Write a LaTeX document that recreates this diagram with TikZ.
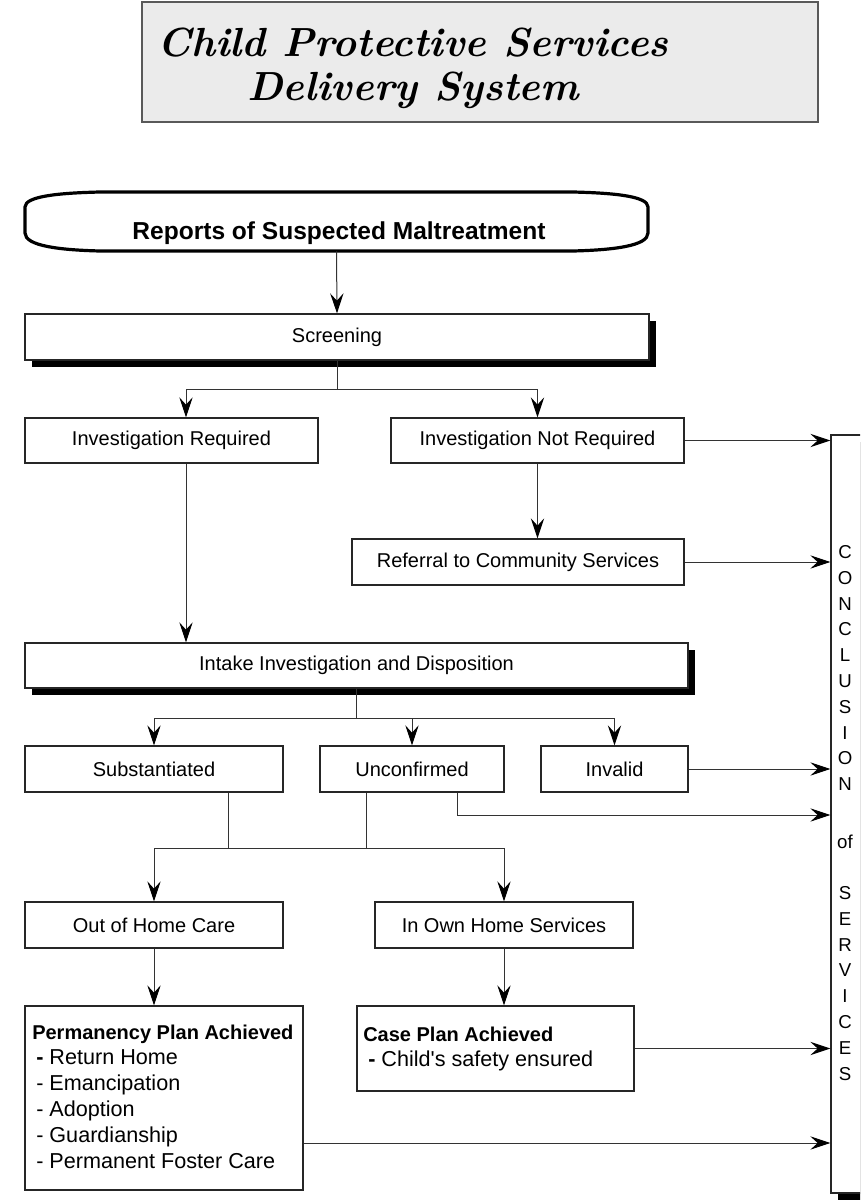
\documentclass[tikz,border=0pt]{standalone}
\usepackage{fontspec}
\newfontfamily\arial{Liberation Sans}
\usetikzlibrary{arrows.meta,calc,shadows}

% box given by its corners in pixel units
\newcommand\pbox[7][]{%
  \node[box,#1,minimum width={(#5-#3)*0.75pt},minimum height={(#6-#4)*0.75pt}]
    (#2) at ({(#3+#5)/2},{(#4+#6)/2}) {#7};}

\begin{document}
\begin{tikzpicture}[x=0.75pt,y=-0.75pt,
  box/.style={draw=black!85,line width=1pt,fill=white,rectangle,inner sep=0pt,
    font=\arial\fontsize{15}{18}\selectfont},
  shade/.style={drop shadow={shadow xshift=5.2pt,shadow yshift=-5.2pt,fill=black,opacity=1}},
  conn/.style={draw=black!80,line width=0.75pt},
  arr/.style={conn,-{Stealth[length=15pt,width=10pt,inset=5.5pt,color=black]}},
  txt/.style={font=\arial\fontsize{16.2}{19}\selectfont,inner sep=0pt},
  btxt/.style={font=\arial\bfseries\fontsize{15}{18}\selectfont,inner sep=0pt},
  letter/.style={font=\arial\fontsize{14}{17}\selectfont,inner sep=0pt,anchor=base}
]
\useasboundingbox (0,0) rectangle (860,1201);
\clip (0,0) rectangle (860,1201);

% title banner
\pbox[fill=black!8,draw=black!65]{title}{142}{2}{818}{122}{}
\node[align=center,inner sep=0pt,font=\bfseries\itshape\fontsize{30.5}{33}\selectfont]
  (titletext) at (413,68) {Child Protective Services\\Delivery System};

% reports terminator
\node[minimum width={623*0.75pt},minimum height={59*0.75pt},inner sep=0pt]
  (reports) at (336.5,221.5) {};
\draw[line width=2.4pt] (25,230) -- (25,207)
  .. controls (25,196) and (60,193) .. (100,192) -- (573,192)
  .. controls (613,193) and (648,196) .. (648,207) -- (648,233)
  .. controls (648,246) and (613,250) .. (573,251) -- (100,251)
  .. controls (60,250) and (25,246) .. (25,233) -- cycle;
\node[font=\arial\bfseries\fontsize{18.4}{22}\selectfont,inner sep=0pt]
  (reportstext) at (339,233) {Reports of Suspected Maltreatment};

% process boxes
\pbox[shade]{screen}{25}{314}{649}{360}{Screening}
\pbox{invreq}{25}{418}{318}{463}{Investigation Required}
\pbox{invnot}{391}{418}{684}{463}{Investigation Not Required}
\pbox{referral}{352}{539}{684}{585}{Referral to Community Services}
\pbox[shade]{intake}{25}{643}{688}{688}{Intake Investigation and Disposition}
\pbox{subst}{25}{746}{283}{792}{Substantiated}
\pbox{unconf}{320}{746}{504}{792}{Unconfirmed}
\pbox{invalid}{541}{746}{688}{792}{Invalid}
\pbox{outhome}{25}{902}{283}{948}{Out of Home Care}
\pbox{inown}{375}{902}{633}{948}{In Own Home Services}
\pbox{perm}{25}{1006}{303}{1190}{}
\pbox{caseplan}{357}{1006}{634}{1091}{}
\pbox[shade]{concl}{831}{435}{885}{1193}{}

% outcome lists
\node[btxt,anchor=base west] (p0) at (32,1039) {Permanency Plan Achieved};
\node[txt,anchor=base west] (p1) at (36,1064) {\textbf{-} Return Home};
\node[txt,anchor=base west] (p2) at (36,1090) {- Emancipation};
\node[txt,anchor=base west] (p3) at (36,1116) {- Adoption};
\node[txt,anchor=base west] (p4) at (36,1142) {- Guardianship};
\node[txt,anchor=base west] (p5) at (36,1168) {- Permanent Foster Care};
\node[btxt,anchor=base west] (c0) at (363,1041) {Case Plan Achieved};
\node[txt,anchor=base west] (c1) at (368,1066) {\textbf{-} Child's safety ensured};

% vertical caption of the conclusion column
\foreach \ch/\yy [count=\i] in {C/552,O/578,N/604,C/629,L/655,U/681,S/707,I/733,O/758,N/784,
  of/842,S/893,E/919,R/945,V/970,I/996,C/1022,E/1048,S/1074}
  \node[letter] (cl\i) at (845,\yy+6.5) {\ch};

% branch points
\coordinate (sb) at (337,389);
\coordinate (xa) at (186,0);
\coordinate (ib) at (356.5,718);
\coordinate (sx) at (228,848);
\coordinate (ucx) at (366,848);
\coordinate (ux) at (457,815);
\coordinate (rowP) at (0,1143);

% connectors
\draw[arr] (reports.south) -- (screen.north);
\draw[conn] (screen.south) -- (sb);
\draw[arr] (sb) -| (invreq.north -| xa);
\draw[arr] (sb) -| (invnot.north);
\draw[arr] (invnot.south) -- (referral.north -| invnot.south);
\draw[arr] (invreq.south -| xa) -- (intake.north -| xa);
\draw[arr] (invnot.east) -- (concl.west |- invnot.east);
\draw[arr] (referral.east) -- (concl.west |- referral.east);

\draw[conn] (intake.south) -- (ib);
\draw[arr] (ib) -| (subst.north);
\draw[arr] (ib) -| (invalid.north);
\draw[arr] (ib) -- (unconf.north |- ib) -- (unconf.north);
\draw[arr] (invalid.east) -- (concl.west |- invalid.east);
\draw[arr] (unconf.south -| ux) -- (ux) -- (concl.west |- ux);

\draw[conn] (subst.south -| sx) -- (sx);
\draw[conn] (unconf.south -| ucx) -- (ucx);
\draw[conn] (sx) -- (ucx);
\draw[arr] (sx) -| (outhome.north);
\draw[arr] (ucx) -| (inown.north);
\draw[arr] (outhome.south) -- (outhome.south |- perm.north);
\draw[arr] (inown.south) -- (inown.south |- caseplan.north);
\draw[arr] (caseplan.east) -- (concl.west |- caseplan.east);
\draw[arr] (perm.east |- rowP) -- (concl.west |- rowP);
\end{tikzpicture}
\end{document}
